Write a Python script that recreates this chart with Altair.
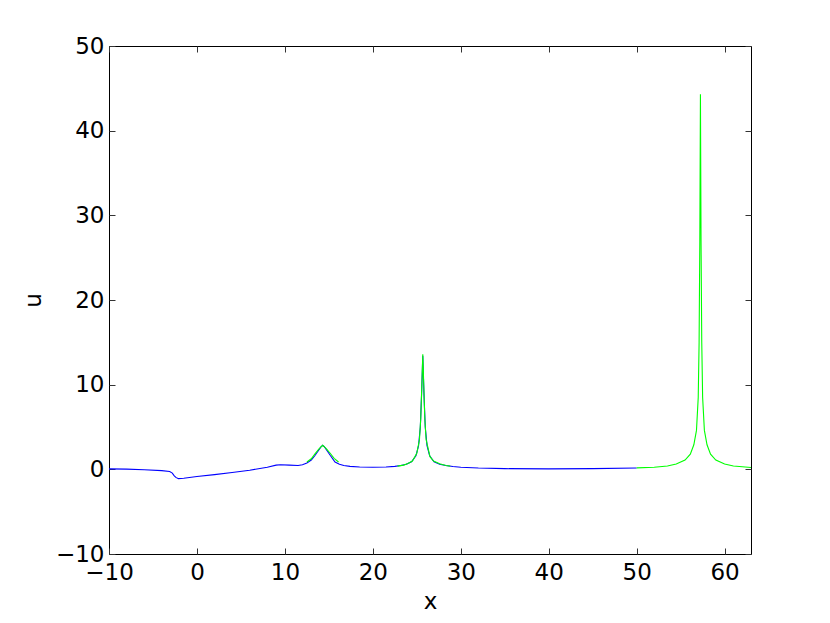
import altair as alt
import pandas as pd

# Blue series (numerical solution)
blue_x = [-10, -8, -6, -4, -3.1, -2.8, -2.6, -2.4, -2.1, -1.5, 0, 2, 4, 6, 8, 9.0, 9.5,
          10.5, 11.5, 12.0, 12.5, 13.0, 13.4, 13.8, 14.1, 14.3, 14.5, 14.8, 15.15, 15.7,
          16.2, 16.7, 17.4, 18.5, 20, 21.5, 22.5, 23.2, 23.8, 24.4, 24.9, 25.2, 25.4,
          25.55, 25.68, 25.81, 25.96, 26.16, 26.46, 26.96, 27.6, 28.3, 29.1, 30, 32, 35,
          40, 45, 50]
blue_u = [0.05, 0.02, -0.05, -0.15, -0.25, -0.45, -0.75, -0.95, -1.1, -1.05, -0.85, -0.62,
          -0.38, -0.1, 0.25, 0.5, 0.55, 0.5, 0.45, 0.55, 0.75, 1.1, 1.6, 2.2, 2.65, 2.84,
          2.65, 2.2, 1.66, 0.87, 0.6, 0.45, 0.35, 0.27, 0.25, 0.28, 0.35, 0.45, 0.6, 0.9,
          1.6, 2.8, 5, 9, 13.4, 9, 5, 2.8, 1.6, 0.9, 0.6, 0.45, 0.33, 0.25, 0.15, 0.08,
          0.05, 0.08, 0.15]

# Green series (three pieces)
green_x = [12.5, 13.0, 13.44, 13.9, 14.3, 14.7, 15.15, 15.6, 16.1,
           22.8, 23.5, 24.0, 24.5, 25.0, 25.3, 25.45, 25.57, 25.68, 25.79, 25.91, 26.06,
           26.5, 26.9, 27.6, 28.3, 28.8,
           50, 52, 53.5, 54.5, 55.5, 56.1, 56.5, 56.8, 57.0, 57.1, 57.18, 57.25, 57.32,
           57.4, 57.5, 57.7, 58.0, 58.4, 59.0, 60.0, 61, 62, 63]
green_u = [0.87, 1.25, 1.85, 2.45, 2.84, 2.45, 1.9, 1.3, 0.87,
           0.38, 0.5, 0.68, 0.98, 1.9, 3.5, 6, 10, 13.6, 10, 6, 3.5,
           1.5, 0.98, 0.67, 0.45, 0.38,
           0.17, 0.25, 0.4, 0.62, 1.1, 1.8, 2.9, 4.6, 8.5, 15, 27, 44.3, 27,
           15, 8.5, 4.6, 2.9, 1.8, 1.1, 0.62, 0.4, 0.3, 0.22]
green_seg = [1] * 9 + [2] * 17 + [3] * 23

x_ticks = [-10, 0, 10, 20, 30, 40, 50, 60]
y_ticks = [-10, 0, 10, 20, 30, 40, 50]

blue_df = pd.DataFrame({"x": blue_x, "u": blue_u})
green_df = pd.DataFrame({"x": green_x, "u": green_u, "seg": green_seg})

FONT = "DejaVu Sans"
xs = alt.Scale(domain=[-10, 63], nice=False, zero=False)
ys = alt.Scale(domain=[-10, 50], nice=False, zero=False)

common_axis = dict(domain=False, grid=False, tickSize=6, offset=-6, tickColor="#333333",
                   tickWidth=1, labelFont=FONT, labelFontSize=23, labelColor="black",
                   labelFlush=False, labelOverlap=False,
                   titleFont=FONT, titleFontSize=23, titleFontWeight="normal",
                   titleColor="black")

blue = alt.Chart(blue_df).mark_line(color="#0000ff", strokeWidth=1.1).encode(
    x=alt.X("x:Q", scale=xs, axis=alt.Axis(values=x_ticks, orient="bottom", title="x",
                                           labelPadding=7, titlePadding=6, **common_axis)),
    y=alt.Y("u:Q", scale=ys, axis=alt.Axis(values=y_ticks, orient="left", title="u",
                                           labelPadding=5, titlePadding=10, **common_axis)),
)

green = alt.Chart(green_df).mark_line(color="#00ff00", strokeWidth=1.1).encode(
    x=alt.X("x:Q", scale=xs, axis=alt.Axis(values=x_ticks, orient="top", title=None,
                                           labels=False, **common_axis)),
    y=alt.Y("u:Q", scale=ys, axis=alt.Axis(values=y_ticks, orient="right", title=None,
                                           labels=False, **common_axis)),
    detail="seg:N",
)

chart = alt.layer(blue, green).resolve_axis(x="independent", y="independent").properties(
    width=642, height=508,
    autosize=alt.AutoSizeParams(type="none"),
    padding={"left": 101, "top": 38, "right": 60, "bottom": 60},
).configure_view(stroke="black", strokeWidth=1)

chart.save("out.html", embed_options={"renderer": "svg", "actions": False})
